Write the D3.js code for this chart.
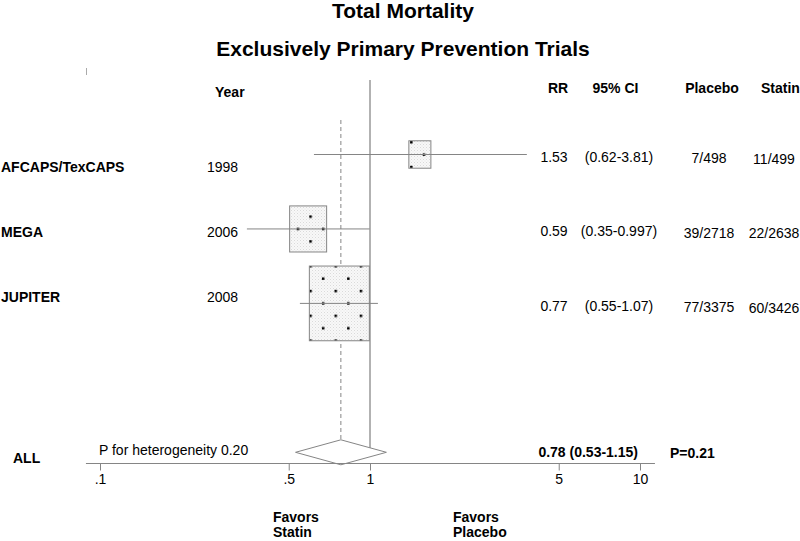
<!DOCTYPE html>
<html>
<meta charset="utf-8">
<script src="https://d3js.org/d3.v7.min.js"></script>
<style>
  body { margin: 0; background: #fff; }
  svg { display: block; font-family: "Liberation Sans", Arial, sans-serif; }
  .bold { font-weight: bold; }
</style>
<body>
<script>
// trial data
const studies = ["AFCAPS/TexCAPS", "MEGA", "JUPITER"];
const years = [1998, 2006, 2008];
const rr = [1.53, 0.59, 0.77];
const ciLow = [0.62, 0.35, 0.55];
const ciHigh = [3.81, 0.997, 1.07];
const placeboEvents = [7, 39, 77];
const placeboN = [498, 2718, 3375];
const statinEvents = [11, 22, 60];
const statinN = [499, 2638, 3426];
const weights = [8.9, 25.1, 66.0];

// pooled estimate
const pooledRR = 0.78;
const pooledLow = 0.53;
const pooledHigh = 1.15;
const pHet = "0.20";
const pOverall = "0.21";

const xTicks = [0.1, 0.5, 1, 5, 10];
const xTickLabels = [".1", ".5", "1", "5", "10"];
const headers = ["Year", "RR", "95% CI", "Placebo", "Statin"];

const width = 800, height = 541;
const grey = "#858585";

const svg = d3.select("body").append("svg")
  .attr("width", width)
  .attr("height", height);

const x = d3.scaleLog().domain([0.1, 10]).range([100, 640]);
const y = d3.scaleLinear().domain([0, 4]).range([154.5, 452.3]);
const labelY = d3.scaleLinear().domain([0, 2]).range([167, 297]);
const boxW = d3.scaleSqrt().domain([0, 66]).range([0, 60]);

const rows = studies.map((s, i) => ({
  name: s, year: years[i], rr: rr[i], lo: ciLow[i], hi: ciHigh[i],
  pl: placeboEvents[i] + "/" + placeboN[i],
  st: statinEvents[i] + "/" + statinN[i],
  w: weights[i]
}));

// patterns for the weight boxes
const defs = svg.append("defs");
const fine = defs.append("pattern")
  .attr("id", "speckle")
  .attr("patternUnits", "userSpaceOnUse")
  .attr("width", 3).attr("height", 3);
fine.append("rect").attr("width", 3).attr("height", 3).attr("fill", "#f8f8f8");
fine.append("rect").attr("width", 1).attr("height", 1).attr("fill", "#dadada");
fine.append("rect").attr("x", 1.5).attr("y", 1.5).attr("width", 1).attr("height", 1).attr("fill", "#e6e6e6");

const dots = defs.append("pattern")
  .attr("id", "dots")
  .attr("patternUnits", "userSpaceOnUse")
  .attr("x", 309.3).attr("y", 265)
  .attr("width", 25.2).attr("height", 24.8);
dots.append("rect").attr("width", 2.5).attr("height", 2.5).attr("fill", "#000");
dots.append("rect").attr("x", 12.6).attr("y", 12.4).attr("width", 2.5).attr("height", 2.5).attr("fill", "#000");

// titles
svg.append("text").attr("class", "bold")
  .attr("x", 403).attr("y", 18)
  .attr("text-anchor", "middle")
  .style("font-size", "21px")
  .text("Total Mortality");
svg.append("text").attr("class", "bold")
  .attr("x", 403).attr("y", 56)
  .attr("text-anchor", "middle")
  .style("font-size", "21px")
  .text("Exclusively Primary Prevention Trials");

// little stray mark top left
svg.append("line")
  .attr("x1", 86.5).attr("x2", 86.5).attr("y1", 68).attr("y2", 75)
  .attr("stroke", "#aaa");

// column headers
const headerX = [215, 558, 615.5, 712, 761];
const headerAnchor = ["start", "middle", "middle", "middle", "start"];
svg.selectAll(".hdr").data(headers).enter()
  .append("text")
  .attr("class", "hdr bold")
  .attr("x", (d, i) => headerX[i])
  .attr("y", (d, i) => i === 0 ? 91.7 : 88.5)
  .attr("dy", "0.35em")
  .attr("text-anchor", (d, i) => headerAnchor[i])
  .style("font-size", "14px")
  .text(d => d);

// reference lines
svg.append("line")
  .attr("x1", x(1)).attr("x2", x(1))
  .attr("y1", 80).attr("y2", 452)
  .attr("stroke", "#999").attr("stroke-width", 1.5);
svg.append("line")
  .attr("x1", x(pooledRR)).attr("x2", x(pooledRR))
  .attr("y1", 120).attr("y2", y(4) - 12.5)
  .attr("stroke", grey).attr("stroke-dasharray", "4,3");

// study rows
const g = svg.selectAll(".study").data(rows).enter()
  .append("g").attr("class", "study");

g.append("rect")
  .attr("x", d => x(d.rr) - boxW(d.w) / 2)
  .attr("y", (d, i) => y(i) - boxW(d.w) * 1.245 / 2)
  .attr("width", d => boxW(d.w))
  .attr("height", d => boxW(d.w) * 1.245)
  .attr("fill", "url(#speckle)");
g.append("rect")
  .attr("x", d => x(d.rr) - boxW(d.w) / 2)
  .attr("y", (d, i) => y(i) - boxW(d.w) * 1.245 / 2)
  .attr("width", d => boxW(d.w))
  .attr("height", d => boxW(d.w) * 1.245)
  .attr("fill", "url(#dots)")
  .attr("stroke", grey);

g.append("line")
  .attr("x1", d => x(d.lo)).attr("x2", d => x(d.hi))
  .attr("y1", (d, i) => y(i)).attr("y2", (d, i) => y(i))
  .attr("stroke", grey);

g.append("text").attr("class", "bold")
  .attr("x", 1).attr("y", (d, i) => labelY(i)).attr("dy", "0.35em")
  .style("font-size", "14px")
  .text(d => d.name);
g.append("text")
  .attr("x", 207).attr("y", (d, i) => labelY(i)).attr("dy", "0.35em")
  .style("font-size", "14px")
  .text(d => d.year);
g.append("text")
  .attr("x", 554).attr("y", (d, i) => y(i) + 2.5).attr("dy", "0.35em")
  .attr("text-anchor", "middle")
  .style("font-size", "14px")
  .text(d => d.rr.toFixed(2));
g.append("text")
  .attr("x", 619).attr("y", (d, i) => y(i) + 2.5).attr("dy", "0.35em")
  .attr("text-anchor", "middle")
  .style("font-size", "14px")
  .text(d => "(" + d.lo + "-" + d.hi + ")");
g.append("text")
  .attr("x", 709).attr("y", (d, i) => y(i) + 4).attr("dy", "0.35em")
  .attr("text-anchor", "middle")
  .style("font-size", "14px")
  .text(d => d.pl);
g.append("text")
  .attr("x", 774).attr("y", (d, i) => y(i) + 4.5).attr("dy", "0.35em")
  .attr("text-anchor", "middle")
  .style("font-size", "14px")
  .text(d => d.st);

// pooled diamond
const yAll = y(4);
svg.append("path")
  .attr("d", d3.line()([
    [x(pooledLow), yAll], [x(pooledRR), yAll - 12.5],
    [x(pooledHigh), yAll], [x(pooledRR), yAll + 12.5]
  ]) + "Z")
  .attr("fill", "#fff")
  .attr("stroke", grey);

svg.append("text").attr("class", "bold")
  .attr("x", 13).attr("y", 458).attr("dy", "0.35em")
  .style("font-size", "14px")
  .text("ALL");
svg.append("text")
  .attr("x", 99).attr("y", 450).attr("dy", "0.35em")
  .style("font-size", "14px")
  .text("P for heterogeneity " + pHet);
svg.append("text").attr("class", "bold")
  .attr("x", 638).attr("y", 452).attr("dy", "0.35em")
  .attr("text-anchor", "end")
  .style("font-size", "14px")
  .text(pooledRR.toFixed(2) + " (" + pooledLow.toFixed(2) + "-" + pooledHigh.toFixed(2) + ")");
svg.append("text").attr("class", "bold")
  .attr("x", 670).attr("y", 453).attr("dy", "0.35em")
  .style("font-size", "14px")
  .text("P=" + pOverall);

// x axis
const xAxis = d3.axisBottom(x)
  .tickValues(xTicks)
  .tickFormat((d, i) => xTickLabels[i])
  .tickSize(7)
  .tickSizeOuter(0);
const ax = svg.append("g")
  .attr("transform", "translate(0,463.5)")
  .call(xAxis);
ax.select(".domain").remove();
ax.append("line")
  .attr("x1", x(0.0887)).attr("x2", x(11.36))
  .attr("stroke", grey);
ax.selectAll(".tick line").attr("stroke", grey);
ax.selectAll(".tick text")
  .attr("fill", "#000")
  .attr("y", 11)
  .style("font-size", "14px")
  .style("font-family", "'Liberation Sans', Arial, sans-serif");

// favors labels
[["Favors", "Statin", 273], ["Favors", "Placebo", 453]].forEach(f => {
  const t = svg.append("text").attr("class", "bold")
    .attr("x", f[2]).attr("y", 522)
    .style("font-size", "14px");
  t.append("tspan").attr("x", f[2]).text(f[0]);
  t.append("tspan").attr("x", f[2]).attr("dy", 15).text(f[1]);
});
</script>
</body>
</html>
